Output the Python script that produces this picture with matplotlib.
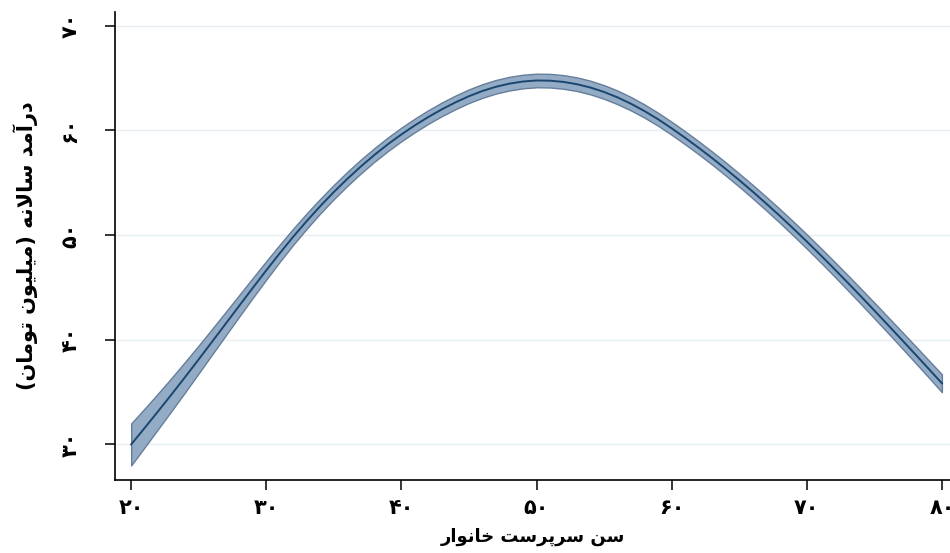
import matplotlib
matplotlib.use("Agg")
import matplotlib.pyplot as plt

# values (household head age vs. annual income, million toman)
age = list(range(20, 81))
income = [30.00, 31.58, 33.18, 34.80, 36.45, 38.13, 39.83, 41.54, 43.25, 44.95,
          46.63, 48.27, 49.85, 51.35, 52.77, 54.11, 55.37, 56.55, 57.65, 58.67,
          59.61, 60.48, 61.28, 62.01, 62.67, 63.26, 63.76, 64.16, 64.46, 64.66,
          64.76, 64.74, 64.62, 64.40, 64.08, 63.66, 63.14, 62.53, 61.83, 61.05,
          60.19, 59.28, 58.33, 57.34, 56.31, 55.24, 54.14, 53.00, 51.83, 50.62,
          49.38, 48.11, 46.81, 45.49, 44.15, 42.79, 41.42, 40.04, 38.65, 37.25,
          35.84]
ci_half = [2.00, 1.85, 1.70, 1.57, 1.45, 1.33, 1.22, 1.12, 1.03, 0.95,
           0.88, 0.82, 0.77, 0.73, 0.70, 0.68, 0.67, 0.66, 0.65, 0.65,
           0.65, 0.65, 0.65, 0.65, 0.65, 0.65, 0.65, 0.65, 0.65, 0.65,
           0.65, 0.65, 0.65, 0.65, 0.65, 0.65, 0.65, 0.64, 0.63, 0.62,
           0.62, 0.62, 0.62, 0.62, 0.63, 0.63, 0.64, 0.65, 0.66, 0.67,
           0.68, 0.69, 0.70, 0.72, 0.73, 0.75, 0.76, 0.78, 0.80, 0.82,
           0.85]

x_ticks = [20, 30, 40, 50, 60, 70, 80]
x_tick_labels = ["۲۰", "۳۰", "۴۰", "۵۰", "۶۰", "۷۰", "۸۰"]
y_ticks = [30, 40, 50, 60, 70]
y_tick_labels = ["۳۰", "۴۰", "۵۰", "۶۰", "۷۰"]
x_title = "سن سرپرست خانوار"
y_title = "درآمد سالانه (میلیون تومان)"

# isolated, final, initial, medial presentation forms
FORMS = {
    "\u0627": ("\uFE8D", "\uFE8E", None, None),
    "\u0622": ("\uFE81", "\uFE82", None, None),
    "\u0628": ("\uFE8F", "\uFE90", "\uFE91", "\uFE92"),
    "\u067E": ("\uFB56", "\uFB57", "\uFB58", "\uFB59"),
    "\u062A": ("\uFE95", "\uFE96", "\uFE97", "\uFE98"),
    "\u062E": ("\uFEA5", "\uFEA6", "\uFEA7", "\uFEA8"),
    "\u062F": ("\uFEA9", "\uFEAA", None, None),
    "\u0631": ("\uFEAD", "\uFEAE", None, None),
    "\u0633": ("\uFEB1", "\uFEB2", "\uFEB3", "\uFEB4"),
    "\u0644": ("\uFEDD", "\uFEDE", "\uFEDF", "\uFEE0"),
    "\u0645": ("\uFEE1", "\uFEE2", "\uFEE3", "\uFEE4"),
    "\u0646": ("\uFEE5", "\uFEE6", "\uFEE7", "\uFEE8"),
    "\u0647": ("\uFEE9", "\uFEEA", "\uFEEB", "\uFEEC"),
    "\u0648": ("\uFEED", "\uFEEE", None, None),
    "\u06CC": ("\uFBFC", "\uFBFD", "\uFBFE", "\uFBFF"),
}


def _dual(c):
    return c in FORMS and FORMS[c][2] is not None


def shape_persian(text):
    """
    Join letters with presentation forms and put them in visual (LTR) order.
    """
    chars = list(text)
    out = []
    i = 0
    while i < len(chars):
        c = chars[i]
        if c not in FORMS:
            out.append(c)
            i += 1
            continue
        join_prev = i > 0 and _dual(chars[i - 1])
        if c == "\u0644" and i + 1 < len(chars) and chars[i + 1] == "\u0627":
            out.append("\uFEFC" if join_prev else "\uFEFB")
            i += 2
            continue
        nxt = chars[i + 1] if i + 1 < len(chars) else ""
        join_next = _dual(c) and nxt in FORMS
        iso, fin, ini, med = FORMS[c]
        if join_prev and join_next:
            out.append(med)
        elif join_prev:
            out.append(fin)
        elif join_next:
            out.append(ini)
        else:
            out.append(iso)
        i += 1
    vis = "".join(reversed(out))
    return vis.translate(str.maketrans("()", ")("))


plt.rcParams["font.family"] = ["DejaVu Sans"]

fig = plt.figure(figsize=(9.5, 5.53), dpi=100)
ax = fig.add_axes([115 / 950, 73 / 553, 835 / 950, 468 / 553])

lower = [m - h for m, h in zip(income, ci_half)]
upper = [m + h for m, h in zip(income, ci_half)]
ax.fill_between(age, lower, upper, facecolor="#94abc5", edgecolor="#647e9b", linewidth=1.0, zorder=2)
ax.plot(age, income, color="#1a476f", linewidth=1.4, zorder=3)

ax.set_xlim(18.8, 80.6)
ax.set_ylim(26.6, 71.3)
ax.set_xticks(x_ticks)
ax.set_xticklabels(x_tick_labels, fontsize=15, fontweight="bold")
ax.set_yticks(y_ticks)
ax.set_yticklabels(y_tick_labels, fontsize=15, fontweight="bold", rotation=90, va="center")
ax.tick_params(axis="both", direction="out", length=7, width=1.1, color="black")
ax.tick_params(axis="x", pad=6)
ax.tick_params(axis="y", pad=18)

ax.grid(axis="y", color="#e6eef1", linewidth=1.0, zorder=0)
ax.set_axisbelow(True)
for side in ("top", "right"):
    ax.spines[side].set_visible(False)
for side in ("left", "bottom"):
    ax.spines[side].set_color("black")
    ax.spines[side].set_linewidth(1.2)

ax.set_xlabel(shape_persian(x_title), fontsize=13, fontweight="bold", labelpad=7)
ax.set_ylabel(shape_persian(y_title), fontsize=15, fontweight="bold", labelpad=16)

fig.savefig("out.png", dpi=100)
